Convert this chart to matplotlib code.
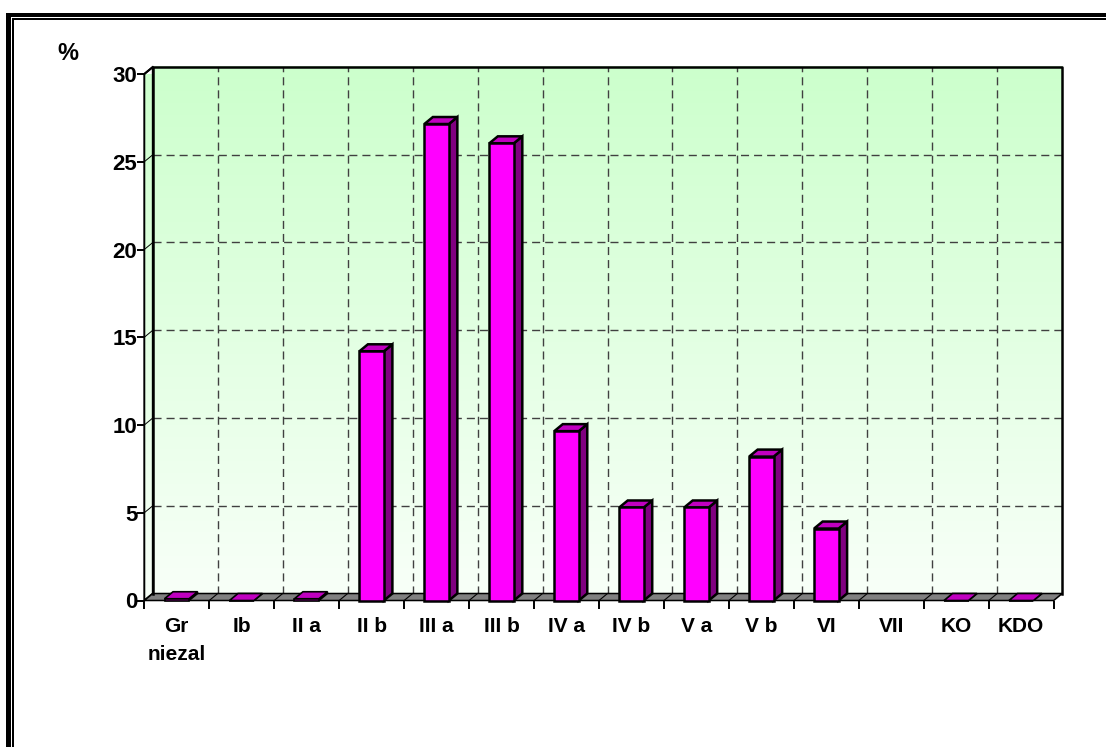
import matplotlib
matplotlib.use("Agg")
import matplotlib.pyplot as plt
import numpy as np
from matplotlib.colors import LinearSegmentedColormap
from matplotlib.patches import Polygon, Rectangle

categories = ["Gr\nniezal", "Ib", "II a", "II b", "III a", "III b", "IV a", "IV b", "V a", "V b", "VI", "VII", "KO", "KDO"]
values = [0.1, 0, 0.1, 14.2, 27.15, 26.05, 9.65, 5.3, 5.3, 8.2, 4.1, None, 0, 0]
y_ticks = [0, 5, 10, 15, 20, 25, 30]

W, H = 1106, 747
FRONT, SIDE, TOP = "#ff00ff", "#800080", "#c000c0"
plt.rcParams["font.family"] = ["Liberation Sans", "DejaVu Sans"]
plt.rcParams["font.weight"] = "bold"

fig = plt.figure(figsize=(W / 100, H / 100), dpi=100)


# frame, only top and left are there; pixel box measured from the top left
def bar_px(x0, y0, x1, y1):
    fig.add_artist(Rectangle((x0 / W, 1 - y1 / H), (x1 - x0) / W, (y1 - y0) / H, fc="black", ec="none",
                             transform=fig.transFigure))


bar_px(6, 13, W, 17.3)
bar_px(12, 18, W, 20)
bar_px(6, 13, 10.5, H)
bar_px(12, 18, 14, H)

# axes is the front plane of the 3d box: x in categories, y in percent
left, right, y0, y30 = 144.3, 1053.7, 600.5, 74
ax = fig.add_axes([left / W, 1 - y0 / H, (right - left) / W, (y0 - y30) / H])
n = len(categories)
ax.set_xlim(0, n)
ax.set_ylim(0, 30)
ax.patch.set_visible(False)
for s in ax.spines.values():
    s.set_visible(False)

dx = 8.5 / ((right - left) / n)
dy = 7 / ((y0 - y30) / 30)

# back wall gradient
cmap = LinearSegmentedColormap.from_list("wall", ["#f8fff8", "#ccffcc"])
grad = np.linspace(1, 0, 256).reshape(-1, 1)
ax.imshow(grad, cmap=cmap, aspect="auto", extent=(dx, n + dx, dy, 30 + dy), zorder=0, clip_on=False)

# left side wall, same gradient
side = Polygon([(0, 0), (dx, dy), (dx, 30 + dy), (0, 30)], closed=True, fc="none", ec="black", lw=1.4, zorder=1, clip_on=False)
ax.add_patch(side)
im = ax.imshow(grad, cmap=cmap, aspect="auto", extent=(0, dx, 0, 30 + dy), zorder=0.5)
im.set_clip_path(side)
ax.set_xlim(0, n)
ax.set_ylim(0, 30)

# gridlines on the wall and floor
for t in y_ticks[1:-1]:
    ax.plot([dx, n + dx], [t + dy, t + dy], color="#404040", lw=1, dashes=(5.8, 3.6), zorder=1.5, clip_on=False)
    ax.plot([0, dx], [t, t + dy], color="black", lw=0.7, zorder=1.5, clip_on=False)
for i in range(1, n):
    ax.plot([i + dx, i + dx], [dy, 30 + dy], color="#404040", lw=1, dashes=(5.8, 3.6), zorder=1.5, clip_on=False)

# wall outline, open at the floor
ax.plot([dx, dx, n + dx, n + dx], [dy, 30 + dy, 30 + dy, dy], color="black", lw=1.8, zorder=3, clip_on=False)
ax.plot([0, dx], [30, 30 + dy], color="black", lw=1.4, zorder=3, clip_on=False)

# floor
ax.add_patch(Polygon([(0, 0), (n, 0), (n + dx, dy), (dx, dy)], closed=True, fc="#808080", ec="black", lw=1.1, zorder=2, clip_on=False))
for i in range(1, n):
    ax.plot([i, i + dx], [0, dy], color="black", lw=0.8, zorder=2.5, clip_on=False)

# bars
bar_w = 24.5 / ((right - left) / n)
for i, v in enumerate(values):
    if v is None:
        continue
    x0 = i + 0.5 - bar_w / 2
    x1 = x0 + bar_w
    lw = 1.8 if v > 1 else 1.2
    kw = dict(closed=True, ec="black", lw=lw, joinstyle="miter", zorder=4, clip_on=False)
    ax.add_patch(Polygon([(x1, 0), (x1 + dx, dy), (x1 + dx, v + dy), (x1, v)], fc=SIDE, **kw))
    ax.add_patch(Polygon([(x0, v), (x1, v), (x1 + dx, v + dy), (x0 + dx, v + dy)], fc=TOP, **kw))
    ax.add_patch(Polygon([(x0, 0), (x1, 0), (x1, v), (x0, v)], fc=FRONT, **kw))

# ticks
ax.set_yticks(y_ticks)
ax.tick_params(axis="y", length=5, width=1.4, pad=0, labelsize=16)
ax.set_xticks(np.arange(n + 1))
ax.set_xticklabels([])
ax.tick_params(axis="x", which="major", length=5.5, width=1.4)
ax.set_xticks(np.arange(n) + 0.5, minor=True)
ax.set_xticklabels(categories, minor=True, fontsize=15, linespacing=1.6, va="top")
ax.tick_params(axis="x", which="minor", length=0, pad=12)

fig.text(68 / W, 1 - 54 / H, "%", fontsize=17, ha="center", va="center")

fig.savefig("out.png", dpi=100)
